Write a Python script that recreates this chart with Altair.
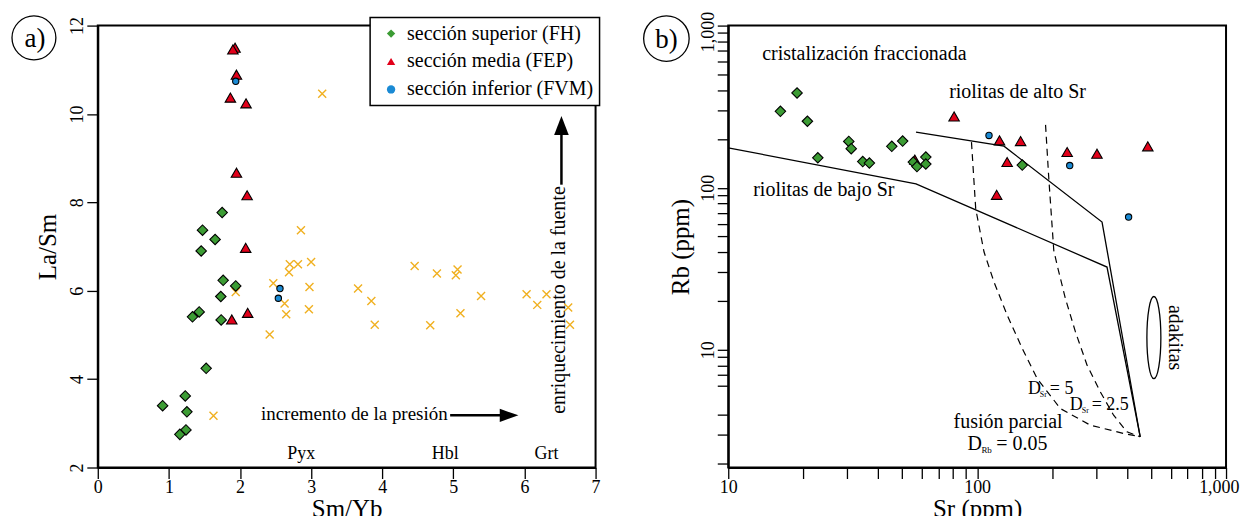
import altair as alt
import pandas as pd

FONT = "Liberation Serif"

GROUPS = ["sección superior (FH)", "sección media (FEP)", "sección inferior (FVM)"]
FILLS = ["#3c9c34", "#e2001a", "#1a8ad4"]
SHAPES = ["diamond", "triangle-up", "circle"]
XCOLOR = "#f0b020"

# ---------------- panel a: Sm/Yb vs La/Sm ----------------
fh_a_smyb = [1.749, 1.473, 1.65, 1.454, 1.763, 1.94, 1.73, 1.426, 1.332, 1.735, 1.524, 1.23, 0.912, 1.253, 1.24, 1.154]
fh_a_lasm = [7.77, 7.37, 7.16, 6.9, 6.235, 6.11, 5.87, 5.52, 5.41, 5.34, 4.245, 3.62, 3.40, 3.26, 2.85, 2.75]
fep_a_smyb = [1.93, 1.90, 1.95, 1.865, 2.085, 1.95, 2.10, 2.08, 2.108, 1.884]
fep_a_lasm = [11.5, 11.46, 10.89, 10.37, 10.24, 8.67, 8.16, 6.97, 5.50, 5.35]
fvm_a_smyb = [1.94, 2.562, 2.539]
fvm_a_lasm = [10.74, 6.05, 5.83]
ref_a_smyb = [3.156, 2.857, 2.70, 2.815, 3.0, 2.689, 2.468, 2.977, 1.94, 3.66, 2.627, 3.847, 2.65, 2.969,
              3.895, 2.417, 1.627, 4.456, 4.769, 5.059, 5.035, 5.39, 5.10, 4.675, 6.03, 6.31, 6.18, 6.615, 6.64]
ref_a_lasm = [10.46, 7.37, 6.60, 6.60, 6.65, 6.42, 6.17, 6.085, 5.97, 6.05, 5.71, 5.77, 5.47, 5.58,
              5.23, 5.01, 3.17, 6.56, 6.39, 6.48, 6.35, 5.88, 5.49, 5.22, 5.92, 5.92, 5.68, 5.62, 5.23]

a_x_ticks = [0, 1, 2, 3, 4, 5, 6, 7]
a_y_ticks = [2, 4, 6, 8, 10, 12]

min_text = ["Pyx", "Hbl", "Grt"]
min_smyb = [2.86, 4.885, 6.31]
min_lasm = [2.30, 2.30, 2.30]

up_text = ["enriquecimiento de la fuente"]
up_text_smyb = [6.48]
up_text_lasm = [5.79]
up_arrow_smyb = [6.52]
up_arrow_from = [8.4]
up_arrow_to = [9.62]
up_head_lasm = [9.74]

pr_text = ["incremento de la presión"]
pr_text_smyb = [4.92]
pr_text_lasm = [3.2]
pr_arrow_lasm = [3.18]
pr_arrow_from = [4.955]
pr_arrow_to = [5.70]
pr_head_smyb = [5.784]

# ---------------- panel b: Sr vs Rb ----------------
fh_b_sr = [16.2, 18.9, 20.8, 22.9, 30.5, 31.2, 34.7, 36.9, 45.4, 50.2, 55.4, 62.2, 62.2, 57.3, 151.8]
fh_b_rb = [296, 384, 257, 153, 193, 174, 145, 142, 180, 194, 144, 154.5, 140, 135, 138]
fep_b_sr = [56.2, 80.8, 123, 149.5, 132, 119.8, 230, 303, 485]
fep_b_rb = [149, 275, 196, 194, 144, 90.4, 166, 162, 180]
fvm_b_sr = [111.6, 235.5, 406]
fvm_b_rb = [210, 137, 65.9]

low_sr = [10, 56.8, 332.5, 452]
low_rb = [176.1, 105.7, 32.4, 2.91]
high_sr = [56.8, 128.2, 317.6, 452]
high_rb = [220.1, 180.4, 61.4, 2.91]
d5_sr = [94.9, 98.7, 106.6, 116.9, 132.2, 151.8, 174.4, 216.1, 285.1, 387.5, 452]
d5_rb = [191, 74.1, 40.1, 26.2, 16.3, 10.2, 6.64, 4.34, 3.43, 3.05, 2.91]
d25_sr = [188.3, 194.1, 203.2, 209.7, 226.3, 248.3, 276.5, 312.6, 353.4, 399.8, 452]
d25_rb = [244.1, 113.4, 41.1, 33.2, 20.7, 12.9, 8.04, 5.50, 3.95, 3.12, 2.91]

b_x_ticks = [10, 20, 30, 40, 50, 60, 70, 80, 90, 100, 200, 300, 400, 500, 600, 700, 800, 900, 1000]
b_y_ticks = [2, 3, 4, 6, 7, 8, 9, 10, 20, 30, 40, 50, 60, 70, 80, 90,
             100, 200, 300, 400, 500, 600, 700, 800, 900, 1000]

b_left_text = ["cristalización fraccionada", "riolitas de alto Sr", "riolitas de bajo Sr"]
b_left_sr = [13.7, 77.2, 12.6]
b_left_rb = [668, 388, 96.2]

b_center_text = ["fusión parcial"]
b_center_sr = [133.2]
b_center_rb = [3.6]

adak_text = ["adakitas"]
adak_sr = [624.4]
adak_rb = [11.9]
ellipse_sr = [513]
ellipse_rb = [11.9]

dlab_main = ["D", "D", "D"]
dlab_sub = ["Rb", "Sr", "Sr"]
dlab_rest = ["= 0.05", "= 5", "= 2.5"]
dlab_sr = [91.4, 159.9, 235.5]
dlab_rb = [2.64, 5.77, 4.56]

# ---------------- helpers ----------------
def group_frame(xname, yname, parts):
    rows = []
    for g, xs, ys in parts:
        for xv, yv in zip(xs, ys):
            rows.append({xname: xv, yname: yv, "grupo": g})
    return pd.DataFrame(rows)

xa_scale = alt.Scale(domain=[0, 7], nice=False, zero=False)
ya_scale = alt.Scale(domain=[2, 12], nice=False, zero=False)
xa_axis = alt.Axis(title="Sm/Yb", values=a_x_ticks, format="d", labelFlush=False, labelPadding=0, titlePadding=0)
ya_axis = alt.Axis(title="La/Sm", values=a_y_ticks, format="d", labelAngle=270, labelAlign="center",
                   labelBaseline="bottom", labelFlush=False, labelPadding=0, titlePadding=8)

def XA(field="smyb"):
    return alt.X(f"{field}:Q", scale=xa_scale, axis=xa_axis)

def YA(field="lasm"):
    return alt.Y(f"{field}:Q", scale=ya_scale, axis=ya_axis)

legend_a = alt.Legend(title=None, orient="none", legendX=273, legendY=-8, fillColor="white",
                      strokeColor="black", padding=6, labelFont=FONT, labelFontSize=20, labelColor="black",
                      labelLimit=400, symbolSize=70, symbolStrokeColor="black", symbolStrokeWidth=1,
                      symbolOffset=5, labelOffset=6, rowPadding=8)

fill_a = alt.Fill("grupo:N", scale=alt.Scale(domain=GROUPS, range=FILLS), legend=legend_a)
shape_a = alt.Shape("grupo:N", scale=alt.Scale(domain=GROUPS, range=SHAPES), legend=legend_a)

df_a_big = group_frame("smyb", "lasm", [(GROUPS[1], fep_a_smyb, fep_a_lasm),
                                        (GROUPS[0], fh_a_smyb, fh_a_lasm)])
df_a_small = group_frame("smyb", "lasm", [(GROUPS[2], fvm_a_smyb, fvm_a_lasm)])
df_ref = pd.DataFrame({"smyb": ref_a_smyb, "lasm": ref_a_lasm})

x_layer = alt.Chart(df_ref).mark_point(shape="M-1,-1L1,1M-1,1L1,-1", filled=False, color=XCOLOR,
                                       strokeWidth=1.4, size=64, opacity=1).encode(x=XA(), y=YA())

pts_a_big = alt.Chart(df_a_big).mark_point(filled=True, stroke="black", strokeWidth=1.1, opacity=1,
                                           size=110).encode(x=XA(), y=YA(), fill=fill_a, shape=shape_a)
pts_a_small = alt.Chart(df_a_small).mark_point(filled=True, stroke="black", strokeWidth=1.1, opacity=1,
                                               size=40).encode(x=XA(), y=YA(), fill=fill_a, shape=shape_a)

df_min = pd.DataFrame({"smyb": min_smyb, "lasm": min_lasm, "t": min_text})
min_layer = alt.Chart(df_min).mark_text(font=FONT, fontSize=18, color="black", align="center",
                                        baseline="middle").encode(x=XA(), y=YA(), text="t:N")

df_up_t = pd.DataFrame({"smyb": up_text_smyb, "lasm": up_text_lasm, "t": up_text})
up_t_layer = alt.Chart(df_up_t).mark_text(font=FONT, fontSize=20, color="black", align="center",
                                          baseline="middle", angle=270).encode(x=XA(), y=YA(), text="t:N")
df_up_a = pd.DataFrame({"smyb": up_arrow_smyb, "lasm": up_arrow_from, "lasm2": up_arrow_to,
                        "lasmh": up_head_lasm})
up_shaft = alt.Chart(df_up_a).mark_rule(color="black", strokeWidth=2.5).encode(
    x=XA(), y=YA(), y2="lasm2:Q")
up_head = alt.Chart(df_up_a).mark_point(shape="M0,-1L0.77,1L-0.77,1Z", size=361, filled=True,
                                        color="black", opacity=1).encode(x=XA(), y=YA("lasmh"))

df_pr_t = pd.DataFrame({"smyb": pr_text_smyb, "lasm": pr_text_lasm, "t": pr_text})
pr_t_layer = alt.Chart(df_pr_t).mark_text(font=FONT, fontSize=19, color="black", align="right",
                                          baseline="middle").encode(x=XA(), y=YA(), text="t:N")
df_pr_a = pd.DataFrame({"smyb": pr_arrow_from, "smyb2": pr_arrow_to, "lasm": pr_arrow_lasm,
                        "smybh": pr_head_smyb})
pr_shaft = alt.Chart(df_pr_a).mark_rule(color="black", strokeWidth=2.5).encode(
    x=XA(), x2="smyb2:Q", y=YA())
pr_head = alt.Chart(df_pr_a).mark_point(shape="M1,0L-1,0.7L-1,-0.7Z", size=350, filled=True,
                                        color="black", opacity=1).encode(x=XA("smybh"), y=YA())

df_lab_a = pd.DataFrame({"t": ["a)"]})
lab_a_c = alt.Chart(df_lab_a).mark_point(shape="circle", size=1936, filled=False, color="black",
                                         strokeWidth=1.3, opacity=1).encode(x=alt.value(-64), y=alt.value(12.3))
lab_a_t = alt.Chart(df_lab_a).mark_text(font=FONT, fontSize=27, color="black", align="center",
                                        baseline="middle").encode(x=alt.value(-63), y=alt.value(13), text="t:N")

chart_a = alt.layer(x_layer, pts_a_big, pts_a_small, min_layer, up_t_layer, up_shaft, up_head,
                    pr_t_layer, pr_shaft, pr_head, lab_a_c, lab_a_t).properties(width=499, height=443)

# ---------------- panel b ----------------
decade_expr = "datum.value == 10 || datum.value == 100 || datum.value == 1000 ? format(datum.value, ',') : ''"
xb_scale = alt.Scale(type="log", domain=[10, 1000], nice=False)
yb_scale = alt.Scale(type="log", domain=[1.88, 1000], nice=False)
xb_axis = alt.Axis(title="Sr (ppm)", values=b_x_ticks, labelExpr=decade_expr, labelFlush=False,
                   labelOverlap=False, labelPadding=0, titlePadding=0,
                   labelAlign={"condition": {"test": "datum.value >= 1000", "value": "right"}, "value": "center"},
                   labelOffset={"condition": {"test": "datum.value >= 1000", "value": 13}, "value": 0})
yb_axis = alt.Axis(title="Rb (ppm)", values=b_y_ticks, labelExpr=decade_expr, labelAngle=270,
                   labelAlign="center", labelBaseline="bottom", labelFlush=False, labelOverlap=False,
                   labelPadding=0, titlePadding=6,
                   labelOffset={"condition": {"test": "datum.value >= 1000", "value": 6}, "value": 0})

def XB(field="sr"):
    return alt.X(f"{field}:Q", scale=xb_scale, axis=xb_axis)

def YB(field="rb"):
    return alt.Y(f"{field}:Q", scale=yb_scale, axis=yb_axis)

solid_rows = []
for name, xs, ys in [("low", low_sr, low_rb), ("high", high_sr, high_rb)]:
    for i, (xv, yv) in enumerate(zip(xs, ys)):
        solid_rows.append({"sr": xv, "rb": yv, "line": name, "i": i})
dash_rows = []
for name, xs, ys in [("d5", d5_sr, d5_rb), ("d25", d25_sr, d25_rb)]:
    for i, (xv, yv) in enumerate(zip(xs, ys)):
        dash_rows.append({"sr": xv, "rb": yv, "line": name, "i": i})

solid_layer = alt.Chart(pd.DataFrame(solid_rows)).mark_line(color="black", strokeWidth=1.3).encode(
    x=XB(), y=YB(), detail="line:N", order="i:Q")
dash_layer = alt.Chart(pd.DataFrame(dash_rows)).mark_line(color="black", strokeWidth=1.2,
                                                          strokeDash=[7, 5]).encode(
    x=XB(), y=YB(), detail="line:N", order="i:Q")

fill_b = alt.Fill("grupo:N", scale=alt.Scale(domain=GROUPS, range=FILLS), legend=None)
shape_b = alt.Shape("grupo:N", scale=alt.Scale(domain=GROUPS, range=SHAPES), legend=None)
df_b_big = group_frame("sr", "rb", [(GROUPS[1], fep_b_sr, fep_b_rb),
                                    (GROUPS[0], fh_b_sr, fh_b_rb)])
df_b_small = group_frame("sr", "rb", [(GROUPS[2], fvm_b_sr, fvm_b_rb)])
pts_b_big = alt.Chart(df_b_big).mark_point(filled=True, stroke="black", strokeWidth=1.1, opacity=1,
                                           size=110).encode(x=XB(), y=YB(), fill=fill_b, shape=shape_b)
pts_b_small = alt.Chart(df_b_small).mark_point(filled=True, stroke="black", strokeWidth=1.1, opacity=1,
                                               size=40).encode(x=XB(), y=YB(), fill=fill_b, shape=shape_b)

df_bl = pd.DataFrame({"sr": b_left_sr, "rb": b_left_rb, "t": b_left_text})
bl_layer = alt.Chart(df_bl).mark_text(font=FONT, fontSize=20, color="black", align="left",
                                      baseline="middle").encode(x=XB(), y=YB(), text="t:N")
df_bc = pd.DataFrame({"sr": b_center_sr, "rb": b_center_rb, "t": b_center_text})
bc_layer = alt.Chart(df_bc).mark_text(font=FONT, fontSize=20, color="black", align="center",
                                      baseline="middle").encode(x=XB(), y=YB(), text="t:N")
df_ad = pd.DataFrame({"sr": adak_sr, "rb": adak_rb, "t": adak_text})
ad_layer = alt.Chart(df_ad).mark_text(font=FONT, fontSize=20, color="black", align="center",
                                      baseline="middle", angle=90).encode(x=XB(), y=YB(), text="t:N")
df_el = pd.DataFrame({"sr": ellipse_sr, "rb": ellipse_rb})
el_layer = alt.Chart(df_el).mark_point(shape="M-0.17,0A0.17,1,0,1,0,0.17,0A0.17,1,0,1,0,-0.17,0Z",
                                       size=6790, filled=False, color="black", strokeWidth=1.3,
                                       opacity=1).encode(x=XB(), y=YB())

df_d = pd.DataFrame({"sr": dlab_sr, "rb": dlab_rb, "m": dlab_main, "s": dlab_sub, "r": dlab_rest,
                     "k": ["rb", "sr5", "sr25"]})
d_rb = df_d[df_d.k == "rb"]
d_sr = df_d[df_d.k != "rb"]
d_main_rb = alt.Chart(d_rb).mark_text(font=FONT, fontSize=20, color="black", align="left",
                                      baseline="middle").encode(x=XB(), y=YB(), text="m:N")
d_sub_rb = alt.Chart(d_rb).mark_text(font=FONT, fontSize=9, color="black", align="left",
                                     baseline="middle", dx=14, dy=6).encode(x=XB(), y=YB(), text="s:N")
d_rest_rb = alt.Chart(d_rb).mark_text(font=FONT, fontSize=20, color="black", align="left",
                                      baseline="middle", dx=29).encode(x=XB(), y=YB(), text="r:N")
d_main_sr = alt.Chart(d_sr).mark_text(font=FONT, fontSize=18, color="black", align="left",
                                      baseline="middle").encode(x=XB(), y=YB(), text="m:N")
d_sub_sr = alt.Chart(d_sr).mark_text(font=FONT, fontSize=8, color="black", align="left",
                                     baseline="middle", dx=12, dy=6).encode(x=XB(), y=YB(), text="s:N")
d_rest_sr = alt.Chart(d_sr).mark_text(font=FONT, fontSize=18, color="black", align="left",
                                      baseline="middle", dx=22).encode(x=XB(), y=YB(), text="r:N")

df_lab_b = pd.DataFrame({"t": ["b)"]})
lab_b_c = alt.Chart(df_lab_b).mark_point(shape="circle", size=2080, filled=False, color="black",
                                         strokeWidth=1.3, opacity=1).encode(x=alt.value(-62), y=alt.value(13))
lab_b_t = alt.Chart(df_lab_b).mark_text(font=FONT, fontSize=27, color="black", align="center",
                                        baseline="middle").encode(x=alt.value(-62), y=alt.value(14), text="t:N")

chart_b = alt.layer(solid_layer, dash_layer, pts_b_big, pts_b_small, bl_layer, bc_layer, ad_layer,
                    el_layer, d_main_rb, d_sub_rb, d_rest_rb, d_main_sr, d_sub_sr, d_rest_sr,
                    lab_b_c, lab_b_t).properties(width=499, height=443)

chart = alt.hconcat(chart_a, chart_b, spacing=133, bounds="flush").resolve_scale(
    x="independent", y="independent", fill="independent", shape="independent"
).resolve_legend(
    fill="independent", shape="independent"
).properties(
    padding={"left": 0, "top": 1, "right": 0, "bottom": 5}
).configure_view(
    stroke="black", strokeWidth=2
).configure_axis(
    domainColor="black", domainWidth=2, tickColor="black", tickWidth=1.3, tickSize=11,
    labelFont=FONT, labelFontSize=18, labelColor="black", titleFont=FONT, titleFontSize=25,
    titleFontWeight="normal", titleColor="black", grid=False
).configure_legend(
    strokeWidth=1.5
)

chart.save("out.html", embed_options={"renderer": "svg", "actions": False})
